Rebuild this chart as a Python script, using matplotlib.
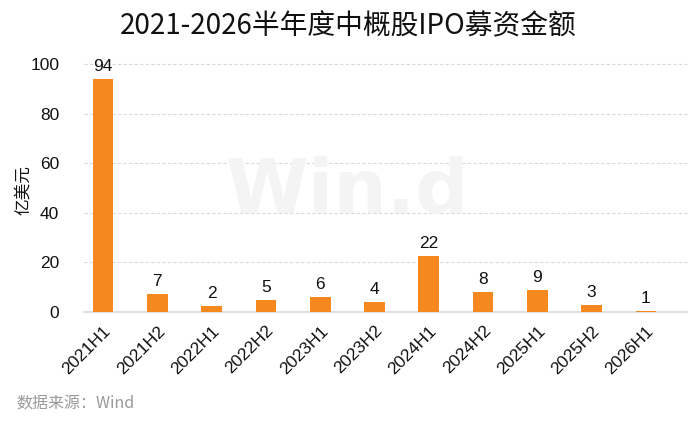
import matplotlib
matplotlib.use("Agg")
import matplotlib.pyplot as plt

plt.rcParams['font.family'] = ['Liberation Sans', 'Noto Sans CJK SC', 'DejaVu Sans']

categories = ["2021H1", "2021H2", "2022H1", "2022H2", "2023H1", "2023H2",
              "2024H1", "2024H2", "2025H1", "2025H2", "2026H1"]
values = [94.0, 7.3, 2.3, 5.0, 6.1, 3.9, 22.4, 8.0, 8.8, 2.7, 0.6]
labels = ["94", "7", "2", "5", "6", "4", "22", "8", "9", "3", "1"]
yticks = [0, 20, 40, 60, 80, 100]

fig = plt.figure(figsize=(7.0, 4.21), dpi=100)
ax = fig.add_axes([76/700, 1 - 312/421, (673-76)/700, (312-64)/421])

x = list(range(len(categories)))
bars = ax.bar(x, values, width=0.38, color="#F5891F", zorder=3)
for xi, v, lab in zip(x, values, labels):
    ax.text(xi, v + 2.0, lab, ha="center", va="bottom", fontsize=12.5, color="#111111", zorder=4)

ax.set_xlim(-0.5, len(categories) - 0.5)
ax.set_ylim(0, 100)
ax.set_yticks(yticks)
ax.set_yticklabels([str(t) for t in yticks], fontsize=12.5, color="#111111")
ax.set_xticks(x)
ax.set_xticklabels(categories, rotation=45, ha="right", rotation_mode="anchor",
                   fontsize=12.5, color="#111111")
ax.tick_params(axis="both", length=0)
ax.tick_params(axis="y", pad=12)
ax.tick_params(axis="x", pad=8)

for t in yticks[1:]:
    ax.plot([-0.35, len(categories) - 0.25], [t, t], ls=(0, (3, 2)), lw=0.8,
            color="#D9D9D9", zorder=1, clip_on=False)
ax.plot([-0.35, len(categories) - 0.25], [0, 0], lw=1.2, color="#D9D9D9", zorder=2, clip_on=False)

for s in ax.spines.values():
    s.set_visible(False)

fig.text(24/700, 1 - 190/421, "亿美元", rotation=90, ha="center", va="center",
         fontsize=12, family=['Noto Sans CJK SC'], color="#111111")

fig.text(348/700, 1 - 193/421, "Win.d", ha="center", va="center", fontsize=54,
         fontweight="bold", color="#F4F4F4", zorder=0, family=['DejaVu Sans'])

fig.text(0.497, 1 - 26/421, "2021-2026半年度中概股IPO募资金额", ha="center", va="center",
         fontsize=20, family=['Noto Sans CJK SC'], color="#111111")
fig.text(16/700, 1 - 404/421, "数据来源：Wind", ha="left", va="center", fontsize=11.5,
         color="#9A9A9A", family=['Noto Sans CJK SC'])

fig.savefig("out.png", dpi=100)
